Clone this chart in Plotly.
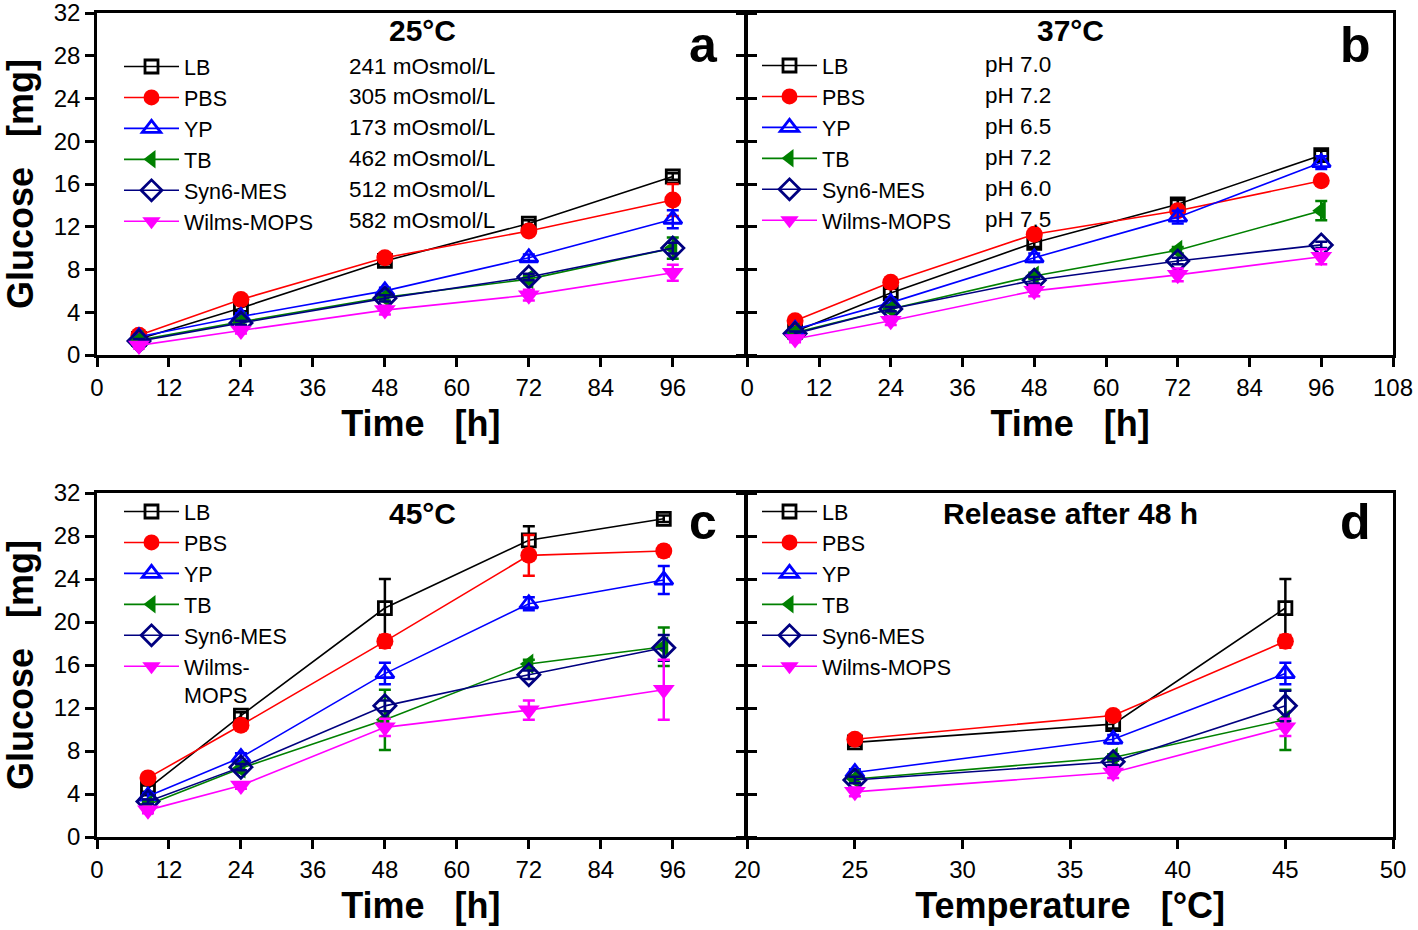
import plotly.graph_objects as go

W, H = 1418, 930

# ---------------- data ----------------
series = ["LB", "PBS", "YP", "TB", "Syn6-MES", "Wilms-MOPS"]
colors = ["#000000", "#FF0000", "#0000FF", "#008000", "#000080", "#FF00FF"]
symbols = ["square-open", "circle", "triangle-up-open", "triangle-left", "diamond-open", "triangle-down"]
msizes = [13, 17, 16, 18, 17, 19]

# panel a: 25 °C
time_a = [7, 24, 48, 72, 96]
a_LB = [1.5, 4.4, 8.8, 12.3, 16.7]
a_PBS = [1.85, 5.2, 9.1, 11.6, 14.5]
a_YP = [1.7, 3.6, 6.0, 9.1, 12.7]
a_TB = [1.4, 3.1, 5.4, 7.1, 10.0]
a_Syn6 = [1.3, 3.0, 5.3, 7.3, 10.0]
a_Wilms = [0.9, 2.3, 4.2, 5.6, 7.7]
a_LB_err = [0.2, 0.3, 0.3, 0.3, 0.3]
a_PBS_err = [0.2, 0.3, 0.3, 0.3, 1.5]
a_YP_err = [0.2, 0.3, 0.3, 0.3, 0.85]
a_TB_err = [0.2, 0.3, 0.3, 0.3, 1.0]
a_Syn6_err = [0.2, 0.2, 0.3, 0.3, 0.5]
a_Wilms_err = [0.3, 0.3, 0.4, 0.5, 0.75]
osmol_labels = ["241 mOsmol/L", "305 mOsmol/L", "173 mOsmol/L",
                "462 mOsmol/L", "512 mOsmol/L", "582 mOsmol/L"]

# panel b: 37 °C
time_b = [8, 24, 48, 72, 96]
b_LB = [2.2, 5.8, 10.5, 14.1, 18.7]
b_PBS = [3.2, 6.8, 11.3, 13.5, 16.3]
b_YP = [2.4, 4.9, 9.1, 12.9, 18.0]
b_TB = [2.1, 4.3, 7.4, 9.8, 13.5]
b_Syn6 = [2.0, 4.3, 7.0, 8.8, 10.3]
b_Wilms = [1.5, 3.2, 6.0, 7.5, 9.2]
b_LB_err = [0.2, 0.4, 0.4, 0.4, 0.4]
b_PBS_err = [0.2, 0.3, 0.3, 0.3, 0.3]
b_YP_err = [0.2, 0.3, 0.4, 0.6, 0.6]
b_TB_err = [0.2, 0.3, 0.3, 0.3, 0.9]
b_Syn6_err = [0.2, 0.2, 0.3, 0.3, 0.3]
b_Wilms_err = [0.3, 0.4, 0.5, 0.6, 0.7]
ph_labels = ["pH 7.0", "pH 7.2", "pH 6.5", "pH 7.2", "pH 6.0", "pH 7.5"]

# panel c: 45 °C
time_c = [8.5, 24, 48, 72, 94.5]
c_LB = [4.5, 11.3, 21.3, 27.6, 29.6]
c_PBS = [5.5, 10.4, 18.2, 26.2, 26.6]
c_YP = [3.8, 7.4, 15.2, 21.7, 23.9]
c_TB = [3.0, 6.4, 10.9, 16.1, 17.7]
c_Syn6 = [3.3, 6.5, 12.2, 15.1, 17.6]
c_Wilms = [2.5, 4.8, 10.2, 11.8, 13.7]
c_LB_err = [0.3, 0.3, 2.7, 1.3, 0.3]
c_PBS_err = [0.3, 0.3, 0.6, 1.9, 0.5]
c_YP_err = [0.3, 0.4, 1.0, 0.6, 1.3]
c_TB_err = [0.3, 0.4, 2.8, 0.4, 1.8]
c_Syn6_err = [0.2, 0.3, 0.5, 0.4, 1.2]
c_Wilms_err = [0.3, 0.3, 0.8, 0.9, 2.8]

# panel d: release after 48 h vs temperature
temp_d = [25, 37, 45]
d_LB = [8.8, 10.5, 21.3]
d_PBS = [9.1, 11.3, 18.2]
d_YP = [6.0, 9.1, 15.2]
d_TB = [5.4, 7.4, 10.9]
d_Syn6 = [5.3, 7.0, 12.2]
d_Wilms = [4.2, 6.0, 10.2]
d_LB_err = [0.3, 0.4, 2.7]
d_PBS_err = [0.3, 0.3, 0.6]
d_YP_err = [0.3, 0.4, 1.0]
d_TB_err = [0.3, 0.3, 2.8]
d_Syn6_err = [0.3, 0.3, 1.4]
d_Wilms_err = [0.4, 0.5, 0.8]

time_ticks_ac = [0, 12, 24, 36, 48, 60, 72, 84, 96]
time_ticks_b = [0, 12, 24, 36, 48, 60, 72, 84, 96, 108]
temp_ticks = [20, 25, 30, 35, 40, 45, 50]
glucose_ticks = [0, 4, 8, 12, 16, 20, 24, 28, 32]

panels = [
    (time_a, [a_LB, a_PBS, a_YP, a_TB, a_Syn6, a_Wilms],
     [a_LB_err, a_PBS_err, a_YP_err, a_TB_err, a_Syn6_err, a_Wilms_err]),
    (time_b, [b_LB, b_PBS, b_YP, b_TB, b_Syn6, b_Wilms],
     [b_LB_err, b_PBS_err, b_YP_err, b_TB_err, b_Syn6_err, b_Wilms_err]),
    (time_c, [c_LB, c_PBS, c_YP, c_TB, c_Syn6, c_Wilms],
     [c_LB_err, c_PBS_err, c_YP_err, c_TB_err, c_Syn6_err, c_Wilms_err]),
    (temp_d, [d_LB, d_PBS, d_YP, d_TB, d_Syn6, d_Wilms],
     [d_LB_err, d_PBS_err, d_YP_err, d_TB_err, d_Syn6_err, d_Wilms_err]),
]

FONT = "Liberation Sans, Arial, sans-serif"

# plot area in page pixels
L, R, T, B = 97, 1393, 13, 837

def px(x):
    return (x - L) / (R - L)

def py(y):
    return 1 - (y - T) / (B - T)

fig = go.Figure()

axis_names = [("x", "y"), ("x2", "y2"), ("x3", "y3"), ("x4", "y4")]
legend_names = ["legend", "legend2", "legend3", "legend4"]

for p, (xs, ys_list, errs) in enumerate(panels):
    xa, ya = axis_names[p]
    for i, name in enumerate(series):
        label = name
        if p == 2 and name == "Wilms-MOPS":
            label = "Wilms-<br>MOPS"
        fig.add_trace(go.Scatter(
            x=xs, y=ys_list[i], name=label, mode="lines+markers",
            xaxis=xa, yaxis=ya, legend=legend_names[p],
            line=dict(color=colors[i], width=1.6),
            marker=dict(symbol=symbols[i], size=msizes[i], color=colors[i],
                        line=dict(color=colors[i], width=2.8 if "open" in symbols[i] else 0)),
            error_y=dict(type="data", array=errs[i], visible=True,
                         color=colors[i], thickness=2.5, width=6),
        ))

tickfont = dict(family=FONT, size=24, color="black")
title_font = dict(family=FONT, size=36, color="black")
LW = 2.5

def xaxis(domain, anchor, rng, tickvals, title):
    return dict(domain=domain, anchor=anchor, range=rng, tickvals=tickvals,
                showline=True, linecolor="black", linewidth=LW, mirror=True,
                ticks="outside", ticklen=9, tickwidth=LW, tickcolor="black",
                showgrid=False, zeroline=False, tickfont=tickfont, automargin=False,
                ticklabeloverflow="allow",
                title=dict(text=title, font=title_font, standoff=12))

def yaxis(domain, anchor, labels, mirror, title):
    return dict(domain=domain, anchor=anchor, range=[0, 32], tickvals=glucose_ticks,
                showticklabels=labels,
                showline=True, linecolor="black", linewidth=LW, mirror=mirror,
                ticks="outside", ticklen=9, tickwidth=LW, tickcolor="black",
                showgrid=False, zeroline=False, tickfont=tickfont, automargin=False,
                ticklabeloverflow="allow",
                title=dict(text=title, font=title_font, standoff=14))

# shared middle border at x=746: make the two axis lines coincide
xl = [px(97), px(746 - LW / 2)]
xr = [px(746 + LW / 2), px(1393)]
yt = [py(355), py(13)]
yb = [py(837), py(493)]

time_title = "<b>Time\u00a0\u00a0\u00a0[h]</b>"
temp_title = "<b>Temperature\u00a0\u00a0\u00a0[°C]</b>"
glu_title = "<b>Glucose\u00a0\u00a0\u00a0[mg]</b>"

LEG_SIZE = 21.5
legend_common = dict(xanchor="left", yanchor="top", bgcolor="rgba(0,0,0,0)",
                     font=dict(family=FONT, size=LEG_SIZE, color="black"),
                     itemwidth=55, tracegroupgap=0, borderwidth=0,
                     itemclick=False, itemdoubleclick=False)

fig.update_layout(
    width=W, height=H,
    margin=dict(l=L, r=W - R, t=T, b=H - B, autoexpand=False),
    paper_bgcolor="white", plot_bgcolor="white",
    font=dict(family=FONT, color="black"),
    xaxis=xaxis(xl, "y", [0, 108], time_ticks_ac, time_title),
    yaxis=yaxis(yt, "x", True, "ticks", glu_title),
    xaxis2=xaxis(xr, "y2", [0, 108], time_ticks_b, time_title),
    yaxis2=yaxis(yt, "x2", False, True, ""),
    xaxis3=xaxis(xl, "y3", [0, 108], time_ticks_ac, time_title),
    yaxis3=yaxis(yb, "x3", True, "ticks", glu_title),
    xaxis4=xaxis(xr, "y4", [20, 50], temp_ticks, temp_title),
    yaxis4=yaxis(yb, "x4", False, True, ""),
    legend=dict(x=px(119), y=py(46), **legend_common),
    legend2=dict(x=px(757), y=py(45), **legend_common),
    legend3=dict(x=px(119), y=py(491), valign="top", **legend_common),
    legend4=dict(x=px(757), y=py(491), **legend_common),
)

annotations = []
def text(x, y, s, size, bold=False, xanchor="center"):
    annotations.append(dict(x=px(x), y=py(y), xref="paper", yref="paper",
                            text=f"<b>{s}</b>" if bold else s, showarrow=False,
                            xanchor=xanchor, yanchor="middle",
                            font=dict(family=FONT, size=size, color="black")))

text(422, 31, "25°C", 30, True)
text(1070, 31, "37°C", 30, True)
text(422, 513, "45°C", 30, True)
text(1070, 513, "Release after 48 h", 30, True)
text(703, 45, "a", 50, True)
text(1355, 45, "b", 50, True)
text(703, 522, "c", 50, True)
text(1355, 522, "d", 50, True)
ROW = LEG_SIZE * 1.3 + 3
for k, s in enumerate(osmol_labels):
    text(347, 66 + ROW * k, s, 22.5, xanchor="left")
for k, s in enumerate(ph_labels):
    text(983, 65 + ROW * k, s, 22.5, xanchor="left")

fig.update_layout(annotations=annotations)

fig.write_html(
    "out.html",
    config={"displayModeBar": False},
    post_script="document.body.style.margin='0px';document.body.style.overflow='hidden';",
)
